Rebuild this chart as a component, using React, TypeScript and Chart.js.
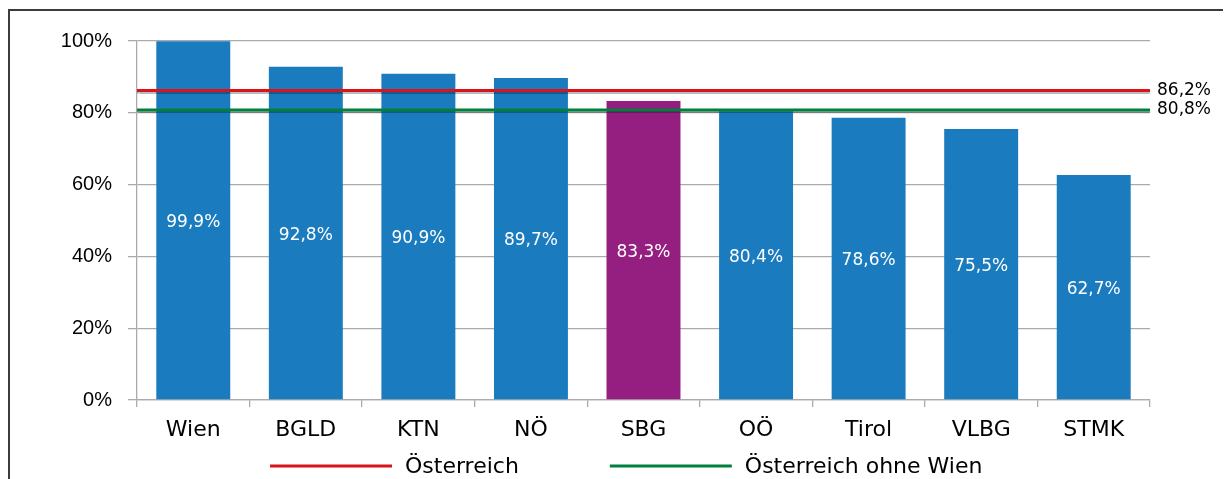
import React, { useEffect, useRef } from "react";
import { Chart, registerables } from "chart.js";

Chart.register(...registerables);

const categories: string[] = ["Wien", "BGLD", "KTN", "NÖ", "SBG", "OÖ", "Tirol", "VLBG", "STMK"];
const shares: number[] = [99.9, 92.8, 90.9, 89.7, 83.3, 80.4, 78.6, 75.5, 62.7];
const highlighted: string = "SBG";
const austriaLabel = "Österreich";
const austriaValue = 86.2;
const austriaNoViennaLabel = "Österreich ohne Wien";
const austriaNoViennaValue = 80.8;
const yTicks: number[] = [0, 20, 40, 60, 80, 100];

const BLUE = "#1a7cbf";
const PURPLE = "#951f80";
const RED = "#d9141d";
const GREEN = "#00803d";
const GRID = "#ababab";
const LABEL_FONT = "'DejaVu Sans', sans-serif";

const fmt = (v: number) => v.toFixed(1).replace(".", ",") + "%";

const labelsPlugin = {
  id: "valueLabels",
  beforeDatasetDraw(chart: any, args: any) {
    if (args.meta.type === "line") {
      const ctx = chart.ctx as CanvasRenderingContext2D;
      ctx.save();
      ctx.shadowColor = "rgba(0,0,0,0.28)";
      ctx.shadowOffsetY = 2;
      ctx.shadowBlur = 1;
    }
  },
  afterDatasetDraw(chart: any, args: any) {
    if (args.meta.type === "line") {
      chart.ctx.restore();
    }
  },
  afterDatasetsDraw(chart: any) {
    const ctx = chart.ctx as CanvasRenderingContext2D;
    const area = chart.chartArea;
    const yScale = chart.scales.y;
    ctx.save();
    const barMeta = chart.getDatasetMeta(0);
    ctx.font = `17px ${LABEL_FONT}`;
    ctx.fillStyle = "#ffffff";
    ctx.textAlign = "center";
    ctx.textBaseline = "middle";
    barMeta.data.forEach((bar: any, i: number) => {
      const p = bar.getProps(["x", "y", "base"], true);
      ctx.fillText(fmt(shares[i]), p.x, (p.y + p.base) / 2 + 2);
    });
    ctx.fillStyle = "#000000";
    ctx.textAlign = "left";
    [austriaValue, austriaNoViennaValue].forEach((v) => {
      ctx.fillText(fmt(v), area.right + 7, yScale.getPixelForValue(v));
    });
    ctx.restore();
  },
  afterDraw(chart: any) {
    const ctx = chart.ctx as CanvasRenderingContext2D;
    const area = chart.chartArea;
    const items = chart.data.datasets.filter((d: any) => d.type === "line");
    ctx.save();
    ctx.font = `22px ${LABEL_FONT}`;
    ctx.textBaseline = "middle";
    ctx.textAlign = "left";
    const lineLen = 122;
    const textGap = 13;
    const itemGap = 91;
    let x = area.left + 133;
    const y = chart.height - 13;
    items.forEach((d: any) => {
      ctx.strokeStyle = d.borderColor;
      ctx.lineWidth = 3;
      ctx.beginPath();
      ctx.moveTo(x, y);
      ctx.lineTo(x + lineLen, y);
      ctx.stroke();
      x += lineLen + textGap;
      ctx.fillStyle = "#000000";
      ctx.fillText(d.label, x, y + 1);
      x += ctx.measureText(d.label).width + itemGap;
    });
    ctx.restore();
  },
};

export default function App() {
  const canvasRef = useRef<HTMLCanvasElement | null>(null);

  useEffect(() => {
    document.documentElement.style.overflow = "hidden";
    const canvas = canvasRef.current;
    if (!canvas) return;
    const chart = new Chart(canvas, {
      type: "bar",
      data: {
        labels: categories,
        datasets: [
          {
            type: "bar",
            label: "Anteil",
            data: shares,
            backgroundColor: categories.map((c) => (c === highlighted ? PURPLE : BLUE)),
            barPercentage: 0.657,
            categoryPercentage: 1,
            grouped: false,
            order: 2,
          },
          {
            type: "line",
            label: austriaLabel,
            data: categories.map(() => austriaValue),
            borderColor: RED,
            backgroundColor: RED,
            borderWidth: 3,
            pointRadius: 0,
            xAxisID: "xl",
            order: 1,
          },
          {
            type: "line",
            label: austriaNoViennaLabel,
            data: categories.map(() => austriaNoViennaValue),
            borderColor: GREEN,
            backgroundColor: GREEN,
            borderWidth: 3,
            pointRadius: 0,
            xAxisID: "xl",
            order: 1,
          },
        ] as any,
      },
      options: {
        animation: false,
        responsive: false,
        maintainAspectRatio: false,
        layout: { padding: { left: 0, right: 81, top: 30, bottom: 34 } },
        plugins: {
          legend: { display: false },
          tooltip: { enabled: false },
        },
        scales: {
          x: {
            type: "category",
            offset: true,
            grid: {
              offset: true,
              drawOnChartArea: false,
              drawTicks: true,
              tickLength: 7,
              color: GRID,
              lineWidth: 1.3,
            },
            border: { color: GRID, width: 1.3 },
            ticks: {
              color: "#000000",
              padding: 10,
              font: { family: LABEL_FONT, size: 22 },
              maxRotation: 0,
            },
            afterFit: (s: any) => {
              s.height = 45;
            },
          },
          xl: {
            type: "category",
            labels: categories,
            offset: false,
            display: false,
          },
          y: {
            min: 0,
            max: 100,
            afterBuildTicks: (s: any) => {
              s.ticks = yTicks.map((v) => ({ value: v }));
            },
            grid: {
              color: GRID,
              lineWidth: 1.3,
              drawTicks: true,
              tickLength: 9,
            },
            border: { color: GRID, width: 1.3 },
            ticks: {
              color: "#000000",
              padding: 16,
              font: { family: "'Liberation Sans', Arial, sans-serif", size: 20 },
              callback: (v: any) => v + "%",
            },
            afterFit: (s: any) => {
              s.width = 127;
            },
          },
        },
      },
      plugins: [labelsPlugin],
    });
    return () => chart.destroy();
  }, []);

  return (
    <div
      style={{
        position: "relative",
        top: 1,
        width: 1223,
        height: 470,
        borderTop: "2px solid #3c3c3c",
        borderLeft: "2px solid #3c3c3c",
        background: "#ffffff",
      }}
    >
      <canvas ref={canvasRef} width={1221} height={468} style={{ display: "block" }} />
    </div>
  );
}
